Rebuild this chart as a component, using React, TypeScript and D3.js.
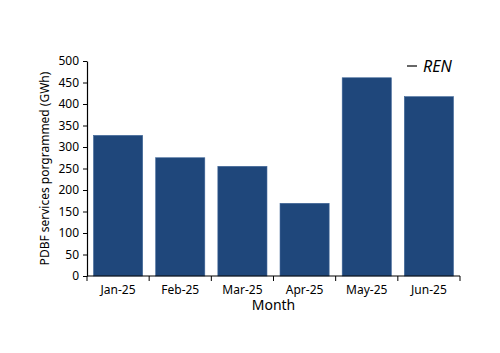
import React, { useEffect, useRef } from 'react';
import * as d3 from 'd3';

const MONTHS = ['Jan-25', 'Feb-25', 'Mar-25', 'Apr-25', 'May-25', 'Jun-25'];
const REN_VALUES = [327, 275, 255, 169, 461, 417];
const Y_TICKS = [0, 50, 100, 150, 200, 250, 300, 350, 400, 450, 500];

const BAR_COLOR = '#1F477B';
const FONT = '"Noto Sans", "DejaVu Sans", sans-serif';

export default function App() {
  const svgRef = useRef<SVGSVGElement>(null);

  useEffect(() => {
    if (!svgRef.current) return;
    const svg = d3.select(svgRef.current);
    svg.selectAll('*').remove();

    const margin = { top: 61, right: 40, bottom: 77, left: 87 };
    const width = 500;
    const height = 353;
    const innerWidth = width - margin.left - margin.right;
    const innerHeight = height - margin.top - margin.bottom;

    const g = svg.append('g').attr('transform', `translate(${margin.left}, ${margin.top})`);

    const xScale = d3.scaleBand<string>()
      .domain(MONTHS)
      .range([0, innerWidth])
      .paddingInner(0.21)
      .paddingOuter(0.105);

    const yScale = d3.scaleLinear().domain([0, 500]).range([innerHeight, 0]);

    // bars
    g.append('g')
      .selectAll('rect')
      .data(MONTHS)
      .enter()
      .append('rect')
      .attr('x', d => xScale(d) as number)
      .attr('y', (d, i) => yScale(REN_VALUES[i]))
      .attr('width', xScale.bandwidth())
      .attr('height', (d, i) => innerHeight - yScale(REN_VALUES[i]))
      .attr('fill', BAR_COLOR)
      .attr('stroke', '#3d6496')
      .attr('stroke-width', 0.6);

    // Y axis
    const yAxis = d3.axisLeft(yScale).tickValues(Y_TICKS).tickSize(4).tickSizeOuter(0).tickPadding(4);
    g.append('g')
      .call(yAxis)
      .call(a => a.select('.domain').attr('stroke', '#000').attr('stroke-width', 1.2))
      .call(a => a.selectAll('.tick line').attr('stroke', '#000'))
      .call(a => a.selectAll('.tick text').attr('fill', '#000').attr('font-size', '12px').attr('font-family', FONT));

    // X axis with ticks at category boundaries
    const xAxisG = g.append('g').attr('transform', `translate(0, ${innerHeight})`);
    xAxisG.append('line')
      .attr('x1', 0).attr('x2', innerWidth)
      .attr('y1', 0).attr('y2', 0)
      .attr('stroke', '#000').attr('stroke-width', 1.2);
    const step = xScale.step();
    d3.range(MONTHS.length + 1).forEach(i => {
      xAxisG.append('line')
        .attr('x1', i * step).attr('x2', i * step)
        .attr('y1', 0).attr('y2', 5)
        .attr('stroke', '#000');
    });
    xAxisG.selectAll('text.lbl')
      .data(MONTHS)
      .enter()
      .append('text')
      .attr('class', 'lbl')
      .attr('x', d => (xScale(d) as number) + xScale.bandwidth() / 2)
      .attr('y', 18)
      .attr('text-anchor', 'middle')
      .attr('font-size', '12px')
      .attr('font-family', FONT)
      .attr('fill', '#000')
      .text(d => d);

    // axis titles
    svg.append('text')
      .attr('x', margin.left + innerWidth / 2)
      .attr('y', 310)
      .attr('text-anchor', 'middle')
      .attr('font-size', '14px')
      .attr('font-family', FONT)
      .text('Month');

    svg.append('text')
      .attr('transform', `translate(49, ${margin.top + innerHeight / 2}) rotate(-90)`)
      .attr('text-anchor', 'middle')
      .attr('font-size', '12px')
      .attr('font-family', FONT)
      .text('PDBF services porgrammed (GWh)');

    // legend
    const legend = svg.append('g').attr('transform', 'translate(407, 66)');
    legend.append('line')
      .attr('x1', 0).attr('x2', 10)
      .attr('y1', 0).attr('y2', 0)
      .attr('stroke', '#000').attr('stroke-width', 1.2);
    legend.append('text')
      .attr('x', 16)
      .attr('y', 6)
      .attr('font-size', '16px')
      .attr('font-style', 'italic')
      .attr('font-family', FONT)
      .text('REN');
  }, []);

  return (
    <div style={{ position: 'absolute', left: 0, top: 0, width: 500, height: 353, background: '#fff' }}>
      <svg ref={svgRef} width={500} height={353} />
    </div>
  );
}
